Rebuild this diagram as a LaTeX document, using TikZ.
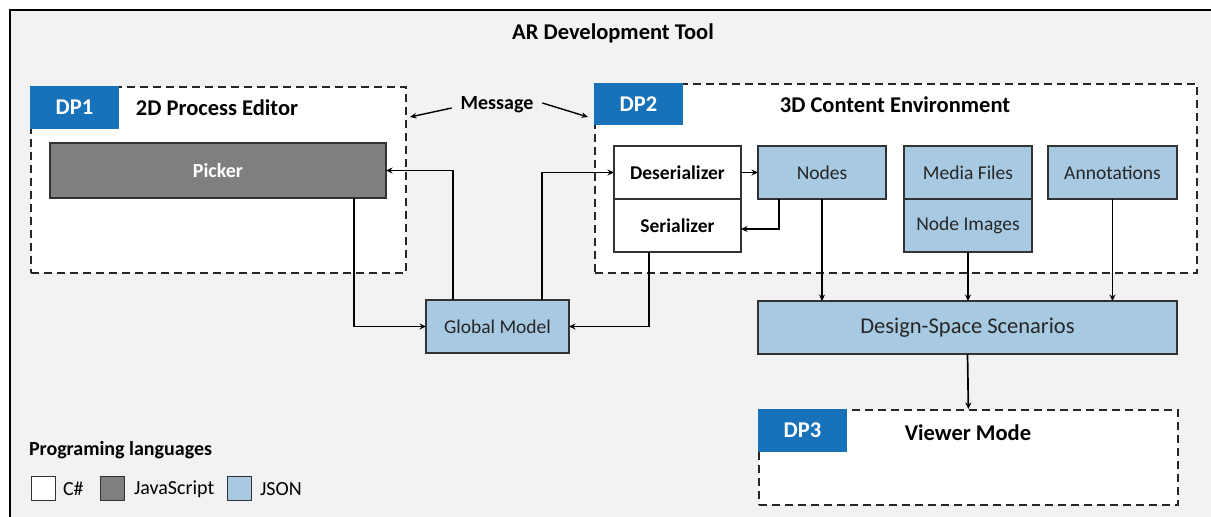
\documentclass[tikz,border=0pt]{standalone}
\usepackage{fontspec}
\setmainfont{Carlito}
\usetikzlibrary{arrows.meta,calc}
\definecolor{bgray}{RGB}{242,242,242}
\definecolor{dpblue}{RGB}{23,114,185}
\definecolor{jsonblue}{RGB}{167,201,225}
\definecolor{jsgray}{RGB}{127,127,127}
\definecolor{edgegray}{RGB}{50,50,50}
\tikzset{
  base/.style={inner sep=0pt, outer sep=0pt, font=\fontsize{19.5}{22}\selectfont},
  box/.style={base, draw=edgegray, line width=1.2pt, minimum height=53pt},
  jsonbox/.style={box, fill=jsonblue, text=black!85},
  csbox/.style={box, fill=white, font=\fontsize{19.5}{22}\selectfont\bfseries},
  jsbox/.style={box, fill=jsgray, text=white, font=\fontsize{20}{22}\selectfont\bfseries},
  container/.style={draw=black!85, line width=1.8pt, dash pattern=on 8pt off 5pt, fill=white, inner sep=0pt, anchor=north west},
  dplabel/.style={base, fill=dpblue, text=white, minimum width=89pt, minimum height=43pt, anchor=north west, font=\fontsize{22.5}{26}\selectfont\bfseries},
  heading/.style={base, font=\fontsize{22.5}{26}\selectfont\bfseries},
  conn/.style={line width=1.7pt, black, -{Stealth[length=6.5pt,width=6pt]}},
  swatch/.style={draw=edgegray, line width=0.9pt, minimum width=24pt, minimum height=24pt, inner sep=0pt},
}
\begin{document}
\begin{tikzpicture}[x=1pt,y=-1pt]
\useasboundingbox (0,0) rectangle (1211,517);
% frame of the whole tool
\fill[white] (0,0) rectangle (1211,517);
\fill[bgray] (10,10) rectangle (1211,517);
\draw[line width=1.6pt] (10,517) -- (10,10) -- (1211,10);
\node[heading] (title) at (613,33) {AR Development Tool};

% design parts
\node[container, minimum width=375pt, minimum height=186pt] (dp1) at (30,86) {};
\node[dplabel] (dp1lab) at (dp1.north west) {DP1};
\node[heading] (dp1title) at (217,108) {2D Process Editor};

\node[container, minimum width=602pt, minimum height=189pt] (dp2) at (594,83) {};
\node[dplabel, minimum height=42pt] (dp2lab) at (dp2.north west) {DP2};
\node[heading] (dp2title) at (895,105) {3D Content Environment};

\node[container, minimum width=419pt, minimum height=95pt] (dp3) at (758,409) {};
\node[dplabel] (dp3lab) at (dp3.north west) {DP3};
\node[heading] (dp3title) at (968,433) {Viewer Mode};

% message exchange between editors
\node[heading, font=\fontsize{20}{24}\selectfont\bfseries] (msg) at (497,105) {Message};
\coordinate (m1) at (410,117);
\coordinate (m2) at (588,117);
\draw[line width=1.4pt, -{Stealth[length=6.5pt,width=5.5pt]}] ([xshift=-9pt,yshift=-3pt]msg.west) -- (m1);
\draw[line width=1.4pt, -{Stealth[length=6.5pt,width=5.5pt]}] ([xshift=9pt,yshift=2pt]msg.east) -- (m2);

% components
\node[jsbox, minimum width=336pt, minimum height=55pt] (picker) at (218,170.5) {Picker};
\node[csbox, minimum width=127pt] (deser) at (677.5,172.5) {Deserializer};
\node[csbox, minimum width=127pt] (ser) at (677.5,225.5) {Serializer};
\node[jsonbox, minimum width=128pt] (nodes) at (822,172.5) {Nodes};
\node[jsonbox, minimum width=128pt] (media) at (968,172.5) {Media Files};
\node[jsonbox, minimum width=128pt] (nimg) at (968,225.5) {Node Images};
\node[jsonbox, minimum width=129pt] (annot) at (1112.5,172.5) {Annotations};
\node[jsonbox, minimum width=143pt] (gm) at (497.5,326.5) {Global Model};
\node[jsonbox, minimum width=419pt, font=\fontsize{22.5}{26}\selectfont] (dss) at (967.5,327.5) {Design-Space Scenarios};

% data flow
\draw[conn] ([xshift=-44.5pt]gm.north) |- (picker.east);
\draw[conn] ([xshift=44.5pt]gm.north) |- (deser.west);
\draw[conn] ([xshift=136pt]picker.south) |- (gm.west);
\draw[conn] ([xshift=-28.5pt]ser.south) |- (gm.east);
\draw[conn] (deser.east) -- (nodes.west);
\draw[conn] ([xshift=-43pt]nodes.south) |- ([yshift=-3.5pt]ser.east);
\draw[conn] (nodes.south) -- (nodes.south |- dss.north);
\draw[conn] (nimg.south) -- (nimg.south |- dss.north);
\draw[conn] (annot.south) -- (annot.south |- dss.north);
\draw[conn] (dss.south) -- (dp3.north);

% legend
\node[heading, font=\fontsize{20}{24}\selectfont\bfseries, anchor=west] (legtitle) at (29,450) {Programing languages};
\node[swatch, fill=white] (sw1) at (43,488) {};
\node[base, anchor=west, font=\fontsize{20}{24}\selectfont] (l1) at (63,489) {C\#};
\node[swatch, fill=jsgray] (sw2) at (112,488) {};
\node[base, anchor=west, font=\fontsize{20}{24}\selectfont] (l2) at (134,489) {JavaScript};
\node[swatch, fill=jsonblue] (sw3) at (239.5,488) {};
\node[base, anchor=west, font=\fontsize{20}{24}\selectfont] (l3) at (260,489) {JSON};
\end{tikzpicture}
\end{document}
